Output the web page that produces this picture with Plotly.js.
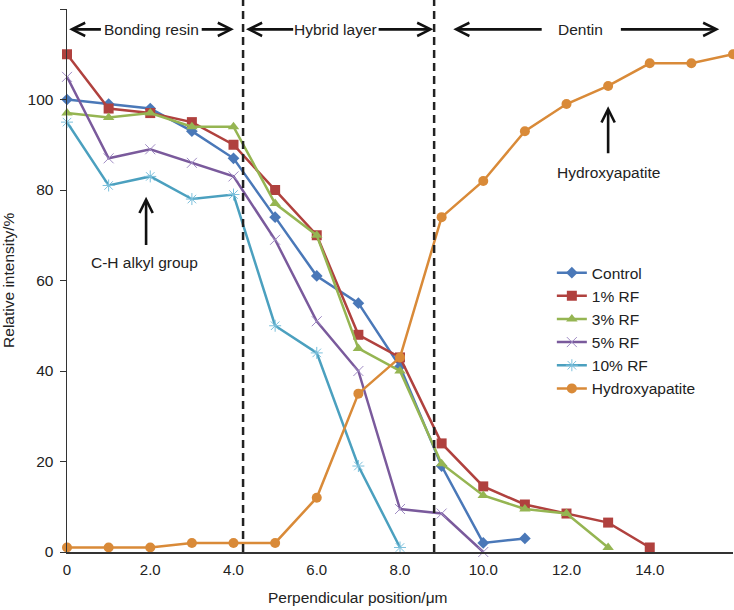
<!DOCTYPE html>
<html>
<head>
<meta charset="utf-8">
<script src="https://cdn.plot.ly/plotly-3.0.1.min.js"></script>
<style>html,body{margin:0;padding:0;background:#fff;}#chart{width:734px;height:610px;}</style>
</head>
<body>
<div id="chart"></div>
<script>
const positions = [0,1,2,3,4,5,6,7,8,9,10,11,12,13,14,15,16];
const control = [100,99,98,93,87,74,61,55,41,19,2,3];
const rf1 = [110,98,97,95,90,80,70,48,43,24,14.5,10.5,8.5,6.5,1];
const rf3 = [97,96,97,94,94,77,70,45,40,19.5,12.5,9.5,8.5,1];
const rf5 = [105,87,89,86,83,69,51,40,9.5,8.5,0];
const rf10 = [95,81,83,78,79,50,44,19,1];
const hydroxyapatite = [1,1,1,2,2,2,12,35,43,74,82,93,99,103,108,108,110];
const xTickVals = [0,2,4,6,8,10,12,14];
const xTickText = ['0','2.0','4.0','6.0','8.0','10.0','12.0','14.0'];
const yTickVals = [0,20,40,60,80,100,120];
const yTickText = ['0','20','40','60','80','100',''];
const seriesNames = ['Control','1% RF','3% RF','5% RF','10% RF','Hydroxyapatite'];
const zoneBounds = [4.23, 8.82];

const FONT = 'Liberation Sans, Arial, sans-serif';
function tr(name, ys, color, symbol, msize, mline, mcolor) {
  return {
    type: 'scatter', mode: 'lines+markers', name: name,
    x: positions.slice(0, ys.length), y: ys,
    line: {color: color, width: 2.5},
    marker: {symbol: symbol, size: msize, color: mcolor || color,
             line: {width: mline, color: mcolor || color}},
    cliponaxis: false
  };
}
const data = [
  tr(seriesNames[0], control, '#4a78b8', 'diamond', 9, 0),
  tr(seriesNames[1], rf1, '#b0413e', 'square', 10, 0),
  tr(seriesNames[2], rf3, '#95b552', 'triangle-up', 10, 0),
  tr(seriesNames[3], rf5, '#7a5a9c', 'x-thin', 10, 1, '#a08cc4'),
  tr(seriesNames[4], rf10, '#4ba0bf', 'asterisk', 10, 1, '#7cc0dc'),
  tr(seriesNames[5], hydroxyapatite, '#d98a38', 'circle', 10, 0)
];

function arrow(x, y, ax, ay) {
  return {x: x, y: y, ax: ax, ay: ay, xref: 'x', yref: 'y', axref: 'x', ayref: 'y',
          text: '', showarrow: true, arrowhead: 5, arrowsize: 1, arrowwidth: 2.6,
          arrowcolor: '#111', standoff: 0, startstandoff: 0};
}
function label(x, y, text) {
  return {x: x, y: y, xref: 'x', yref: 'y', text: text, showarrow: false,
          font: {family: FONT, size: 15.5, color: '#222'}, xanchor: 'center', yanchor: 'middle'};
}
const AY = 115.5;
const annotations = [
  arrow(0.05, AY, 0.85, AY), arrow(4.01, AY, 3.2, AY), label(2.02, AY, 'Bonding resin'),
  arrow(4.30, AY, 5.47, AY), arrow(8.80, AY, 7.45, AY), label(6.45, AY, 'Hybrid layer'),
  arrow(9.28, AY, 11.44, AY), arrow(15.67, AY, 13.27, AY), label(12.33, AY, 'Dentin'),
  arrow(1.9, 78.5, 1.9, 67.5), label(1.85, 64, 'C-H alkyl group'),
  arrow(13.0, 98.5, 13.0, 87.8), label(13.0, 83.8, 'Hydroxyapatite'),
  {x: -0.088, y: 0.5, xref: 'paper', yref: 'paper', text: 'Relative intensity/%', textangle: -90,
   showarrow: false, font: {family: FONT, size: 15.5, color: '#222'}, xanchor: 'center', yanchor: 'middle'},
  {x: 0.437, y: -0.083, xref: 'paper', yref: 'paper', text: 'Perpendicular position/μm',
   showarrow: false, font: {family: FONT, size: 15.5, color: '#222'}, xanchor: 'center', yanchor: 'middle'}
];
const shapes = zoneBounds.map(b => ({type: 'line', xref: 'x', yref: 'paper', x0: b, x1: b, y0: 0, y1: 1.02,
  line: {color: '#222', width: 2.5, dash: '8px,5px'}}));

const layout = {
  width: 734, height: 610,
  margin: {l: 67, r: 1, t: 9, b: 58},
  paper_bgcolor: '#fff', plot_bgcolor: '#fff',
  font: {family: FONT, size: 15, color: '#222'},
  showlegend: true,
  legend: {x: 0.728, y: 0.545, xanchor: 'left', yanchor: 'top', bgcolor: 'rgba(0,0,0,0)',
           font: {family: FONT, size: 15.5, color: '#222'}, tracegroupgap: 0},
  xaxis: {range: [0, 16], tickvals: xTickVals, ticktext: xTickText, showgrid: false, zeroline: false,
          showline: true, linecolor: '#333', linewidth: 1.5, ticks: '', tickfont: {size: 15},
          ticklabelstandoff: 3},
  yaxis: {range: [0, 120], tickvals: yTickVals, ticktext: yTickText, showgrid: false, zeroline: false,
          showline: true, linecolor: '#333', linewidth: 1.5, ticks: 'outside', ticklen: 6, tickcolor: '#333',
          tickfont: {size: 15.5}, ticklabelstandoff: 3},
  shapes: shapes,
  annotations: annotations
};
Plotly.newPlot('chart', data, layout, {displayModeBar: false, staticPlot: true});
</script>
</body>
</html>
